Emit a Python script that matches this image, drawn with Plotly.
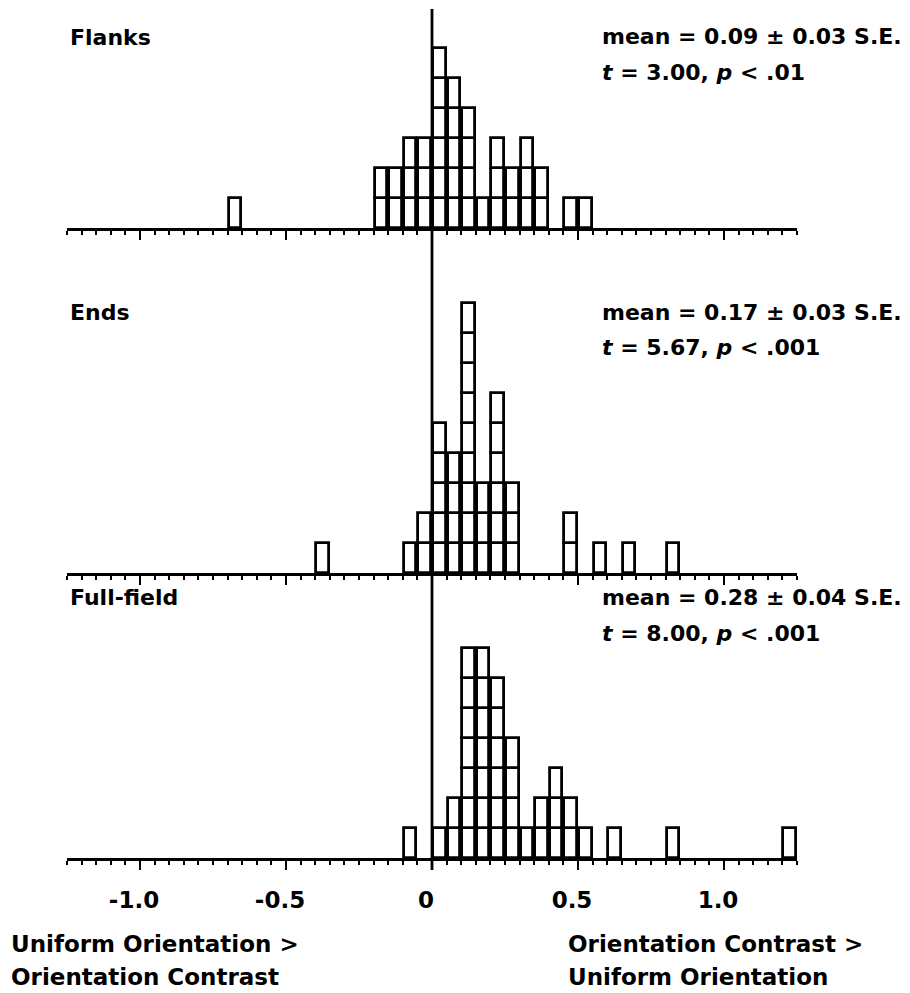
import numpy as np
import plotly.graph_objects as go

# ---------------- data (bin centres, bin width 0.05; counts = number of boxes) ----------------
BIN_W = 0.05
flanks_bins = [-0.675, -0.175, -0.125, -0.075, -0.025, 0.025, 0.075, 0.125, 0.175,
               0.225, 0.275, 0.325, 0.375, 0.475, 0.525]
flanks_counts = [1, 2, 2, 3, 3, 6, 5, 4, 1, 3, 2, 3, 2, 1, 1]

ends_bins = [-0.375, -0.075, -0.025, 0.025, 0.075, 0.125, 0.175, 0.225, 0.275,
             0.475, 0.575, 0.675, 0.825]
ends_counts = [1, 1, 2, 5, 4, 9, 3, 6, 3, 2, 1, 1, 1]

full_bins = [-0.075, 0.025, 0.075, 0.125, 0.175, 0.225, 0.275, 0.325, 0.375,
             0.425, 0.475, 0.525, 0.625, 0.825, 1.225]
full_counts = [1, 1, 2, 7, 7, 6, 4, 1, 2, 3, 2, 1, 1, 1, 1]

panel_names = ["Flanks", "Ends", "Full-field"]
stat_line1 = ["mean = 0.09 ± 0.03 S.E.", "mean = 0.17 ± 0.03 S.E.", "mean = 0.28 ± 0.04 S.E."]
stat_line2 = ["<i>t</i> = 3.00, <i>p</i> &lt; .01", "<i>t</i> = 5.67, <i>p</i> &lt; .001",
              "<i>t</i> = 8.00, <i>p</i> &lt; .001"]

tick_vals = [-1.0, -0.5, 0.0, 0.5, 1.0]
tick_text = ["-1.0", "-0.5", "0", "0.5", "1.0"]
x_range = [-1.25, 1.25]

left_label = ["Uniform Orientation &gt;", "Orientation Contrast"]
right_label = ["Orientation Contrast &gt;", "Uniform Orientation"]

# ---------------- layout geometry (pixels) ----------------
W, H = 910, 993
PX_PER_COUNT = 30
baselines = [228, 573, 858]
units = [6.6, 9.3, 8.0]
x_left, x_right = 67, 797

FONT = dict(family="DejaVu Sans", size=22, color="black", weight="bold")


def py(y):
    return 1 - y / H


fig = go.Figure()
series = [(flanks_bins, flanks_counts), (ends_bins, ends_counts), (full_bins, full_counts)]

minor_vals = [round(v, 2) for v in np.arange(-1.25, 1.2501, 0.05)]

for i, (bins, counts) in enumerate(series):
    xs, bases = [], []
    for b, c in zip(bins, counts):
        for k in range(c):
            xs.append(b)
            bases.append(k)
    n = i + 1
    fig.add_trace(go.Bar(
        x=xs, y=[1] * len(xs), base=bases, width=BIN_W * 0.86,
        marker=dict(color="white", line=dict(color="black", width=2.8)),
        xaxis=f"x{n}" if n > 1 else "x", yaxis=f"y{n}" if n > 1 else "y",
        showlegend=False, hoverinfo="skip",
    ))
    b = baselines[i]
    top = b - units[i] * PX_PER_COUNT
    yname = "yaxis" if n == 1 else f"yaxis{n}"
    xname = "xaxis" if n == 1 else f"xaxis{n}"
    fig.layout[yname] = dict(domain=[py(b), py(top)], range=[0, units[i]], visible=False,
                             anchor="x" if n == 1 else f"x{n}")
    fig.layout[xname] = dict(
        domain=[x_left / W, x_right / W], range=x_range,
        anchor="y" if n == 1 else f"y{n}",
        showline=True, linecolor="black", linewidth=3,
        showgrid=False, zeroline=False,
        tickmode="array", tickvals=tick_vals, ticktext=tick_text,
        ticks="outside", ticklen=9, tickwidth=2.2, tickcolor="black",
        minor=dict(tickmode="array", tickvals=minor_vals, ticks="outside",
                   ticklen=4, tickwidth=2.2, tickcolor="black", showgrid=False),
        showticklabels=(n == 3),
        tickfont=dict(family="DejaVu Sans", size=23, color="black", weight="bold"),
        ticklabelstandoff=10, ticklabelshift=-6,
    )

# vertical zero line spanning all panels
fig.add_shape(type="line", xref="x3", yref="paper", x0=0, x1=0,
              y0=py(870), y1=py(9), line=dict(color="black", width=2.8))

ann = []
name_y = [38, 312, 597]
stat_y = [(36, 72), (312, 348), (597, 633)]
for i in range(3):
    ann.append(dict(text=panel_names[i], x=68 / W, y=py(name_y[i]), xref="paper", yref="paper",
                    xanchor="left", yanchor="middle", showarrow=False, font=FONT))
    ann.append(dict(text=stat_line1[i], x=600 / W, y=py(stat_y[i][0]), xref="paper", yref="paper",
                    xanchor="left", yanchor="middle", showarrow=False, font=FONT))
    ann.append(dict(text=stat_line2[i], x=600 / W, y=py(stat_y[i][1]), xref="paper", yref="paper",
                    xanchor="left", yanchor="middle", showarrow=False, font=FONT))

for j, yy in enumerate([944, 977]):
    ann.append(dict(text=left_label[j], x=9 / W, y=py(yy), xref="paper", yref="paper",
                    xanchor="left", yanchor="middle", showarrow=False, font=dict(FONT, size=23)))
    ann.append(dict(text=right_label[j], x=566 / W, y=py(yy), xref="paper", yref="paper",
                    xanchor="left", yanchor="middle", showarrow=False, font=dict(FONT, size=23)))

fig.update_layout(
    width=W, height=H, margin=dict(l=0, r=0, t=0, b=0),
    paper_bgcolor="white", plot_bgcolor="white",
    annotations=ann, bargap=0,
)

fig.write_html("out.html")
